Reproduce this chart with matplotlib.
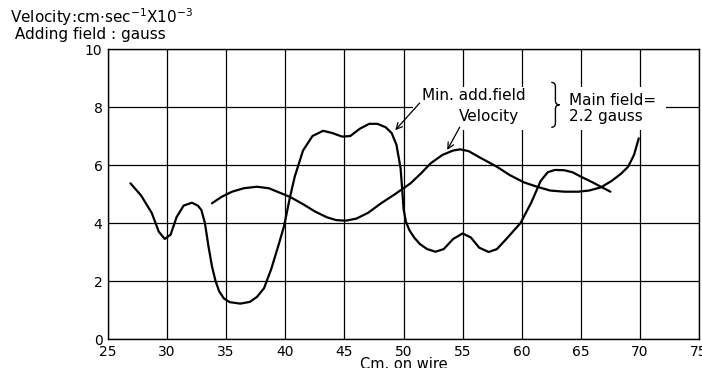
import matplotlib.pyplot as plt
from matplotlib.patches import Rectangle, PathPatch
from matplotlib.path import Path

# Min. adding field (gauss) against position on wire (cm)
field_x = [26.9, 27.8, 28.7, 29.3, 29.8, 30.3, 30.8, 31.4, 32.1, 32.6, 32.9, 33.2, 33.5,
           33.8, 34.1, 34.4, 34.8, 35.3, 36.2, 37.0, 37.6, 38.2, 38.8, 39.4, 39.9, 40.4,
           40.8, 41.5, 42.3, 43.2, 44.0, 44.8, 45.5, 46.3, 47.1, 47.8, 48.5, 49.0, 49.4,
           49.75, 49.9, 50.0, 50.2, 50.5, 50.9, 51.4, 52.0, 52.7, 53.4, 54.2, 55.0, 55.7,
           56.4, 57.2, 57.9, 58.7, 59.9, 60.8, 61.6, 62.2, 62.8, 63.6, 64.3, 65.0, 66.0,
           67.5]
field_y = [5.37, 4.95, 4.35, 3.7, 3.45, 3.6, 4.2, 4.6, 4.7, 4.6, 4.45, 4.0, 3.2,
           2.5, 2.0, 1.65, 1.4, 1.27, 1.22, 1.28, 1.45, 1.75, 2.4, 3.2, 3.9, 4.9,
           5.6, 6.5, 7.0, 7.18, 7.1, 6.98, 7.0, 7.25, 7.42, 7.42, 7.3, 7.1, 6.7,
           5.9, 5.1, 4.5, 4.05, 3.75, 3.5, 3.27, 3.1, 3.01, 3.1, 3.45, 3.64, 3.5,
           3.15, 3.0, 3.1, 3.45, 4.0, 4.7, 5.45, 5.75, 5.83, 5.82, 5.75, 5.6, 5.4,
           5.08]

# Velocity (cm/sec x 10^-3)
vel_x = [33.8, 34.6, 35.5, 36.5, 37.6, 38.6, 39.5, 40.4, 41.5, 42.5, 43.5, 44.3, 45.1,
         46.0, 47.0, 48.1, 49.3, 50.6, 51.5, 52.3, 53.3, 54.2, 54.8, 55.5, 56.5, 57.9,
         59.0, 60.2, 61.3, 62.4, 63.6, 64.8, 65.7, 66.7, 67.6, 68.4, 69.0, 69.5, 69.9]
vel_y = [4.68, 4.9, 5.08, 5.2, 5.25, 5.2, 5.05, 4.9, 4.65, 4.4, 4.2, 4.1, 4.08,
         4.15, 4.35, 4.68, 5.0, 5.37, 5.72, 6.06, 6.35, 6.5, 6.54, 6.48, 6.25, 5.94,
         5.65, 5.4, 5.25, 5.12, 5.08, 5.08, 5.12, 5.23, 5.45, 5.7, 5.94, 6.35, 6.92]

x_ticks = [25, 30, 35, 40, 45, 50, 55, 60, 65, 70, 75]
y_ticks = [0, 2, 4, 6, 8, 10]

fig = plt.figure(figsize=(7.02, 3.68), dpi=100)
ax = fig.add_axes([0.1538, 0.0788, 0.842, 0.788])

ax.plot(field_x, field_y, color='black', lw=1.6, zorder=3,
        solid_joinstyle='round', solid_capstyle='round')
ax.plot(vel_x, vel_y, color='black', lw=1.6, zorder=3,
        solid_joinstyle='round', solid_capstyle='round')

ax.set_xlim(25, 75)
ax.set_ylim(0, 10)
ax.set_xticks(x_ticks)
ax.set_yticks(y_ticks)
ax.tick_params(length=0, labelsize=10, pad=4)
ax.grid(True, color='black', lw=0.9)
for s in ax.spines.values():
    s.set_linewidth(1.0)
ax.set_xlabel('Cm. on wire', fontsize=10.5, labelpad=-1)

# white patch where the notes sit
ax.add_patch(Rectangle((50.8, 7.2), 21.4, 1.5, facecolor='white',
                       edgecolor='none', zorder=2.5))

ax.annotate('Min. add.field', xy=(49.3, 7.2), xytext=(51.6, 8.4),
            fontsize=11, va='center', ha='left', zorder=4,
            arrowprops=dict(arrowstyle='->', color='black', lw=0.9,
                            shrinkA=0, shrinkB=0, relpos=(0, 0.2)))
ax.annotate('Velocity', xy=(53.7, 6.52), xytext=(54.7, 7.66),
            fontsize=11, va='center', ha='left', zorder=4,
            arrowprops=dict(arrowstyle='->', color='black', lw=0.9,
                            shrinkA=0, shrinkB=0, relpos=(0.05, 0.1)))

# curly brace
xl, xm, xr = 62.5, 62.85, 63.2
yt, ym, yb, r = 8.85, 8.075, 7.3, 0.15
brace = Path([(xl, yt), (xm, yt), (xm, yt - r), (xm, ym + r), (xm, ym), (xr, ym),
              (xm, ym), (xm, ym - r), (xm, yb + r), (xm, yb), (xl, yb)],
             [Path.MOVETO, Path.CURVE3, Path.CURVE3, Path.LINETO, Path.CURVE3,
              Path.CURVE3, Path.CURVE3, Path.CURVE3, Path.LINETO, Path.CURVE3,
              Path.CURVE3])
ax.add_patch(PathPatch(brace, facecolor='none', edgecolor='black', lw=1.0,
                       zorder=4))

ax.text(64.0, 8.24, 'Main field=', fontsize=11, va='center', ha='left', zorder=4)
ax.text(64.0, 7.69, '2.2 gauss', fontsize=11, va='center', ha='left', zorder=4)

fig.text(0.014, 0.893,
         r'Velocity:cm$\cdot$sec$^{-1}$X10$^{-3}$' + '\n Adding field : gauss',
         fontsize=11, va='baseline', ha='left', linespacing=0.95)

fig.savefig('out.png', dpi=100)
